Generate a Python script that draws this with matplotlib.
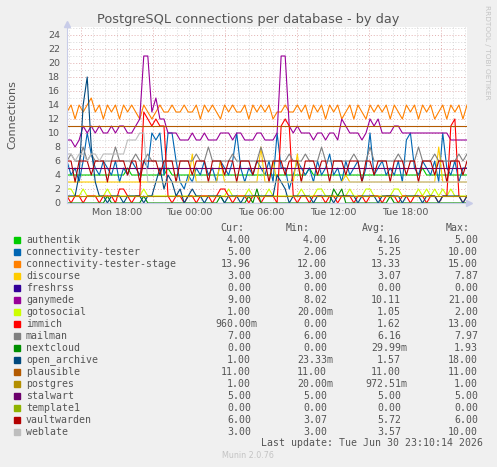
import numpy as np
import matplotlib
matplotlib.use("Agg")
import matplotlib.pyplot as plt
from matplotlib.patches import Rectangle

# sample times: hours since Mon 00:00, one sample every ~20 min
t_start = 13 + 50 / 60   # Mon 13:50
t_end = 47 + 10 / 60     # Tue 23:10
n = 100

tick_hours = [18, 24, 30, 36, 42]
tick_labels = ["Mon 18:00", "Tue 00:00", "Tue 06:00", "Tue 12:00", "Tue 18:00"]

authentik = [4] * n
for i in (15, 25, 60, 88):
    authentik[i] = 5

conn_tester = [6, 4, 5, 3, 6, 10, 7, 5, 4, 6,
               5, 4, 6, 3, 5, 4, 6, 5, 4, 6,
               5, 10, 9, 10, 4, 10, 10, 6, 3, 2,
               4, 3, 5, 4, 6, 4, 5, 3, 6, 5,
               4, 6, 10, 5, 3, 5, 4, 6, 5, 4,
               6, 3, 10, 5, 5, 2, 4, 6, 5, 4,
               5, 3, 6, 4, 5, 7, 4, 5, 3, 6,
               4, 5, 6, 3, 5, 10, 4, 5, 6, 4,
               5, 4, 6, 3, 9, 10, 5, 4, 6, 5,
               4, 6, 3, 10, 5, 4, 6, 3, 5, 5]

conn_tester_stage = [13, 14, 12, 14, 13, 14, 15, 13, 14, 12,
                     14, 13, 14, 12, 14, 13, 14, 13, 12, 14,
                     13, 12, 13, 14, 13, 13, 14, 13, 13, 14,
                     13, 13, 14, 12, 14, 13, 14, 13, 12, 14,
                     13, 14, 13, 13, 14, 12, 14, 13, 14, 13,
                     14, 12, 13, 13, 14, 13, 13, 14, 13, 14,
                     12, 14, 13, 14, 12, 14, 13, 14, 12, 13,
                     14, 12, 14, 13, 12, 14, 13, 14, 13, 14,
                     12, 14, 13, 12, 14, 13, 14, 12, 14, 13,
                     14, 12, 13, 14, 12, 14, 13, 14, 12, 14]

discourse = [3] * n
for i, v in ((31, 7), (38, 6), (48, 8), (51, 6), (57, 7), (69, 4), (92, 8)):
    discourse[i] = v

freshrss = [0] * n

ganymede = [9, 9, 8, 9, 11, 10, 11, 10, 11, 10,
            10, 11, 10, 11, 11, 10, 10, 11, 12, 21,
            21, 13, 15, 12, 12, 10, 10, 10, 9, 9,
            9, 10, 9, 9, 10, 9, 9, 9, 10, 10,
            10, 9, 10, 10, 9, 9, 9, 10, 10, 9,
            9, 9, 10, 21, 21, 11, 10, 11, 10, 10,
            10, 9, 10, 10, 9, 10, 10, 9, 12, 11,
            10, 10, 10, 9, 10, 12, 11, 12, 10, 10,
            10, 11, 11, 10, 10, 10, 10, 10, 10, 10,
            10, 10, 10, 10, 10, 9, 9, 9, 9, 9]

gotosocial = [1] * n
for i in (0, 1, 4, 10, 19, 40, 45, 50, 58, 62, 63, 70, 74, 75, 81, 82, 87, 89, 91, 93, 95):
    gotosocial[i] = 2

immich = [1, 0, 1, 1, 0, 1, 1, 1, 0, 1,
          1, 1, 0, 2, 2, 1, 0, 1, 1, 13,
          12, 11, 12, 11, 11, 1, 0, 1, 1, 0,
          1, 1, 0, 1, 1, 1, 0, 1, 2, 2,
          1, 0, 1, 1, 1, 0, 1, 1, 0, 1,
          1, 1, 0, 11, 12, 11, 1, 0, 1, 1,
          0, 1, 1, 1, 0, 1, 1, 0, 1, 1,
          1, 0, 1, 1, 0, 1, 1, 1, 0, 1,
          1, 1, 0, 1, 1, 0, 1, 1, 1, 0,
          1, 1, 0, 1, 1, 11, 12, 1, 0, 1]

mailman = [6, 7, 6, 6, 8, 6, 7, 6, 6, 6,
           6, 6, 8, 6, 6, 6, 6, 7, 6, 6,
           7, 6, 6, 6, 6, 6, 6, 6, 6, 6,
           6, 6, 7, 6, 6, 8, 6, 6, 6, 6,
           6, 7, 6, 6, 6, 6, 6, 6, 8, 6,
           6, 6, 6, 6, 6, 7, 6, 6, 6, 7,
           6, 6, 6, 8, 6, 6, 6, 6, 6, 6,
           6, 7, 6, 6, 6, 8, 6, 6, 6, 6,
           6, 6, 7, 6, 6, 6, 6, 8, 6, 6,
           6, 7, 6, 6, 6, 6, 6, 7, 6, 7]

nextcloud = [0] * n
for i, v in ((10, 1), (19, 1), (38, 1), (45, 1), (47, 2), (66, 2), (67, 1), (68, 2), (80, 1)):
    nextcloud[i] = v

open_archive = [1, 1, 1, 4, 14, 18, 8, 3, 1, 1,
                0, 1, 1, 1, 0, 1, 1, 1, 1, 0,
                1, 1, 3, 5, 2, 4, 3, 1, 2, 0,
                1, 2, 1, 1, 0, 1, 1, 1, 1, 0,
                1, 1, 1, 0, 1, 1, 1, 1, 1, 1,
                1, 1, 4, 3, 2, 0, 1, 1, 1, 1,
                1, 0, 1, 1, 1, 1, 0, 1, 1, 1,
                1, 1, 0, 1, 1, 1, 1, 0, 1, 1,
                1, 1, 1, 0, 1, 1, 1, 1, 0, 1,
                1, 1, 0, 1, 1, 1, 1, 1, 0, 1]

plausible = [11] * n
postgres = [1] * n
stalwart = [5] * n
template1 = [0] * n

vaultwarden = [6, 6, 3, 6, 6, 6, 4, 6, 6, 6,
               3, 6, 6, 6, 6, 4, 6, 6, 3, 6,
               6, 6, 6, 4, 6, 6, 6, 3, 6, 6,
               6, 4, 6, 6, 6, 3, 6, 6, 6, 4,
               6, 6, 3, 6, 6, 6, 4, 6, 6, 6,
               3, 6, 6, 6, 4, 6, 6, 6, 3, 6,
               6, 6, 4, 6, 6, 3, 6, 6, 6, 4,
               6, 6, 6, 3, 6, 6, 4, 6, 6, 6,
               3, 6, 6, 6, 4, 6, 6, 3, 6, 6,
               6, 4, 6, 6, 3, 6, 6, 6, 4, 6]

weblate = [7, 7, 6, 7, 7, 6, 7, 7, 6, 7,
           7, 7, 7, 7, 7, 9, 9, 9, 10, 10] + [3] * 80

names = ["authentik", "connectivity-tester", "connectivity-tester-stage", "discourse",
         "freshrss", "ganymede", "gotosocial", "immich", "mailman", "nextcloud",
         "open_archive", "plausible", "postgres", "stalwart", "template1",
         "vaultwarden", "weblate"]
colors = ["#00CC00", "#0066B3", "#FF8000", "#FFCC00", "#330099", "#990099", "#CCFF00",
          "#FF0000", "#808080", "#008F00", "#00487D", "#B35A00", "#B38F00", "#6B006B",
          "#8FB300", "#B30000", "#BEBEBE"]
series = [authentik, conn_tester, conn_tester_stage, discourse, freshrss, ganymede,
          gotosocial, immich, mailman, nextcloud, open_archive, plausible, postgres,
          stalwart, template1, vaultwarden, weblate]

cur = ["4.00", "5.00", "13.96", "3.00", "0.00", "9.00", "1.00", "960.00m", "7.00",
       "0.00", "1.00", "11.00", "1.00", "5.00", "0.00", "6.00", "3.00"]
vmin = ["4.00", "2.06", "12.00", "3.00", "0.00", "8.02", "20.00m", "0.00", "6.00",
        "0.00", "23.33m", "11.00", "20.00m", "5.00", "0.00", "3.07", "3.00"]
vavg = ["4.16", "5.25", "13.33", "3.07", "0.00", "10.11", "1.05", "1.62", "6.16",
        "29.99m", "1.57", "11.00", "972.51m", "5.00", "0.00", "5.72", "3.57"]
vmax = ["5.00", "10.00", "15.00", "7.87", "0.00", "21.00", "2.00", "13.00", "7.97",
        "1.93", "18.00", "11.00", "1.00", "5.00", "0.00", "6.00", "10.00"]

W, H = 497, 467
txt = "#555555"

fig = plt.figure(figsize=(W / 100, H / 100), dpi=100, facecolor="#f0f0f0")
ax = fig.add_axes([67 / W, 1 - 203 / H, 400 / W, (203 - 26.6) / H])
ax.set_facecolor("white")

x = np.linspace(t_start, t_end, n)
ax.set_xlim(t_start, t_start + 400 / 12)
ax.set_ylim(0, 25.2)

# grid
for y in range(1, 26):
    c = "#e2b0b0" if y % 2 == 0 else "#d8d8d8"
    ax.axhline(y, color=c, lw=0.7, ls=(0, (1, 2)), zorder=0)
for h in range(14, 48):
    c = "#e2b0b0" if h % 6 == 3 else "#d8d8d8"
    ax.axvline(h, color=c, lw=0.7, ls=(0, (1, 2)), zorder=0)

for s, c in zip(series, colors):
    ax.plot(x, s, color=c, lw=0.8, zorder=2)

for sp in ["top", "right"]:
    ax.spines[sp].set_visible(False)
for sp in ["left", "bottom"]:
    ax.spines[sp].set_color("#c8cce8")
    ax.spines[sp].set_linewidth(0.8)
ax.plot([t_start], [25.6], marker="^", color="#c8cce8", ms=4, clip_on=False)
ax.plot([t_start + 402 / 12], [0], marker=">", color="#c8cce8", ms=4, clip_on=False)

ax.set_yticks(range(0, 25, 2))
ax.set_xticks(tick_hours)
ax.set_xticklabels(tick_labels)
ax.tick_params(length=0, labelsize=6.8, labelcolor=txt)
ax.tick_params(axis="y", pad=5)
ax.tick_params(axis="x", pad=3.5)
ax.set_ylabel("Connections", fontsize=8, color=txt, labelpad=22)

fig.text(248 / W, 1 - 19 / H, "PostgreSQL connections per database - by day",
         ha="center", va="center", fontsize=9.3, color=txt)
fig.text(487 / W, 1 - 5 / H, "RRDTOOL / TOBI OETIKER", rotation=270,
         ha="center", va="top", fontsize=5.3, color="#c4c4c4")

# legend table
mono = dict(family="DejaVu Sans Mono", fontsize=7.1, color=txt, va="center")
cw = 5.96
for lab, xr in (("Cur:", 244), ("Min:", 310), ("Avg:", 386), ("Max:", 470)):
    fig.text(xr / W, 1 - 228 / H, lab, ha="right", **mono)

for k, name in enumerate(names):
    yc = 239.7 + 12 * k
    fig.patches.append(Rectangle((14 / W, 1 - (yc + 3) / H), 6 / W, 6 / H,
                                 transform=fig.transFigure, color=colors[k]))
    fig.text(26 / W, 1 - yc / H, name, ha="left", **mono)
    for vals, xr in ((cur, 257), (vmin, 333), (vavg, 407), (vmax, 484)):
        v = vals[k]
        xe = xr if v.endswith("m") else xr - cw
        fig.text(xe / W, 1 - yc / H, v, ha="right", **mono)

fig.text(483 / W, 1 - 443.3 / H, "Last update: Tue Jun 30 23:10:14 2026", ha="right", **mono)
fig.text(248 / W, 1 - 456 / H, "Munin 2.0.76", ha="center", va="center",
         fontsize=5.8, color="#c4c4c4")

fig.savefig("out.png", dpi=100, facecolor=fig.get_facecolor())
